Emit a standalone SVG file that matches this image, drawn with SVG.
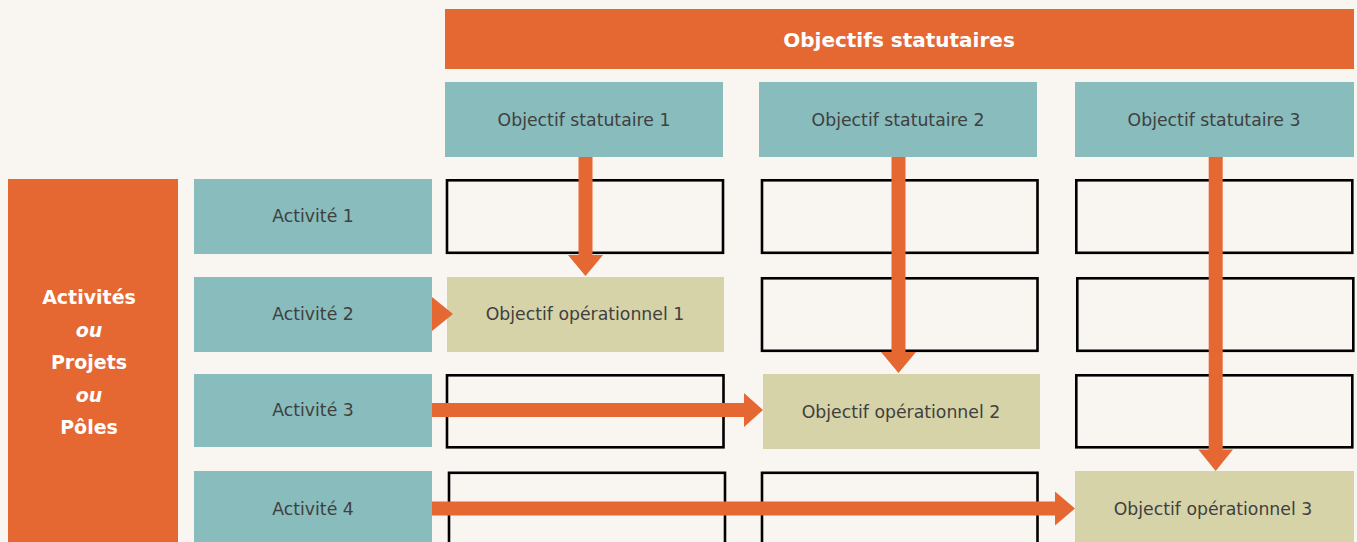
<svg xmlns="http://www.w3.org/2000/svg" width="1357" height="542" viewBox="0 0 1357 542">
  <style>
    .bg { fill: #F9F5F1; }
    .orange { fill: #E56833; }
    .teal { fill: #88BCBD; }
    .beige { fill: #D6D3A9; }
    .cell { fill: none; stroke: #000000; stroke-width: 2.6; }
    .lbl { font-family: "DejaVu Sans", "Liberation Sans", sans-serif; font-size: 17.3px; fill: #404040; text-anchor: middle; dominant-baseline: central; }
    .head { font-family: "DejaVu Sans", "Liberation Sans", sans-serif; font-weight: bold; fill: #FFFFFF; text-anchor: middle; dominant-baseline: central; }
    .arrow { fill: #E56833; }
  </style>

  <rect class="bg" x="0" y="0" width="1357" height="542"/>

  <!-- column header band -->
  <g id="header-objectifs">
    <rect class="orange" x="445" y="9" width="909" height="60"/>
    <text class="head" x="899" y="40" font-size="20">Objectifs statutaires</text>
  </g>

  <!-- row header band -->
  <g id="header-activites">
    <rect class="orange" x="8" y="179" width="170" height="370"/>
    <text class="head" x="89" y="297" font-size="19">Activités</text>
    <text class="head" x="89" y="330" font-size="19" font-style="italic">ou</text>
    <text class="head" x="89" y="362" font-size="19">Projets</text>
    <text class="head" x="89" y="395" font-size="19" font-style="italic">ou</text>
    <text class="head" x="89" y="427" font-size="19">Pôles</text>
  </g>

  <!-- statutory objectives -->
  <g id="statutaire-1">
    <rect class="teal" x="445" y="82" width="278" height="75"/>
    <text class="lbl" x="584" y="120">Objectif statutaire 1</text>
  </g>
  <g id="statutaire-2">
    <rect class="teal" x="759" y="82" width="278" height="75"/>
    <text class="lbl" x="898" y="120">Objectif statutaire 2</text>
  </g>
  <g id="statutaire-3">
    <rect class="teal" x="1075" y="82" width="279" height="75"/>
    <text class="lbl" x="1214" y="120">Objectif statutaire 3</text>
  </g>

  <!-- activities -->
  <g id="activite-1">
    <rect class="teal" x="194" y="179" width="238" height="75"/>
    <text class="lbl" x="313" y="216">Activité 1</text>
  </g>
  <g id="activite-2">
    <rect class="teal" x="194" y="277" width="238" height="75"/>
    <text class="lbl" x="313" y="314">Activité 2</text>
  </g>
  <g id="activite-3">
    <rect class="teal" x="194" y="374" width="238" height="73"/>
    <text class="lbl" x="313" y="410">Activité 3</text>
  </g>
  <g id="activite-4">
    <rect class="teal" x="194" y="471" width="238" height="76"/>
    <text class="lbl" x="313" y="509">Activité 4</text>
  </g>

  <!-- empty matrix cells -->
  <g id="cellules">
    <rect class="cell" x="447" y="180.3" width="276" height="72.5"/>
    <rect class="cell" x="762" y="180.3" width="275.5" height="72.5"/>
    <rect class="cell" x="1076.3" y="180.3" width="276" height="72.5"/>

    <rect class="cell" x="762" y="278.3" width="275.5" height="72.5"/>
    <rect class="cell" x="1077.3" y="278.3" width="276" height="72.5"/>

    <rect class="cell" x="447" y="375.3" width="276.5" height="72"/>
    <rect class="cell" x="1076.3" y="375.3" width="276" height="72"/>

    <rect class="cell" x="449" y="472.8" width="276" height="75"/>
    <rect class="cell" x="762" y="472.8" width="275.5" height="75"/>
  </g>

  <!-- operational objectives -->
  <g id="operationnel-1">
    <rect class="beige" x="447" y="277" width="277" height="75"/>
    <text class="lbl" x="585" y="314">Objectif opérationnel 1</text>
  </g>
  <g id="operationnel-2">
    <rect class="beige" x="763" y="374" width="277" height="75"/>
    <text class="lbl" x="901" y="412">Objectif opérationnel 2</text>
  </g>
  <g id="operationnel-3">
    <rect class="beige" x="1075" y="471" width="279" height="76"/>
    <text class="lbl" x="1213" y="509">Objectif opérationnel 3</text>
  </g>

  <!-- connectors -->
  <g id="connecteurs">
    <!-- statutaire 1 -> operationnel 1 -->
    <polygon class="arrow" points="578.5,157 592.5,157 592.5,255 603,255 585.5,276 568,255 578.5,255"/>
    <!-- statutaire 2 -> operationnel 2 -->
    <polygon class="arrow" points="891.5,157 905.5,157 905.5,352 916,352 898.5,373 881,352 891.5,352"/>
    <!-- statutaire 3 -> operationnel 3 -->
    <polygon class="arrow" points="1208.7,157 1222.7,157 1222.7,449.5 1233,449.5 1215.7,471 1198.3,449.5 1208.7,449.5"/>
    <!-- activite 2 -> operationnel 1 -->
    <polygon class="arrow" points="432,297 453,314 432,331"/>
    <!-- activite 3 -> operationnel 2 -->
    <polygon class="arrow" points="432,403 744,403 744,393 763,410 744,427 744,417 432,417"/>
    <!-- activite 4 -> operationnel 3 -->
    <polygon class="arrow" points="432,501.5 1055,501.5 1055,491.5 1075,508.5 1055,525.5 1055,515.5 432,515.5"/>
  </g>
</svg>
